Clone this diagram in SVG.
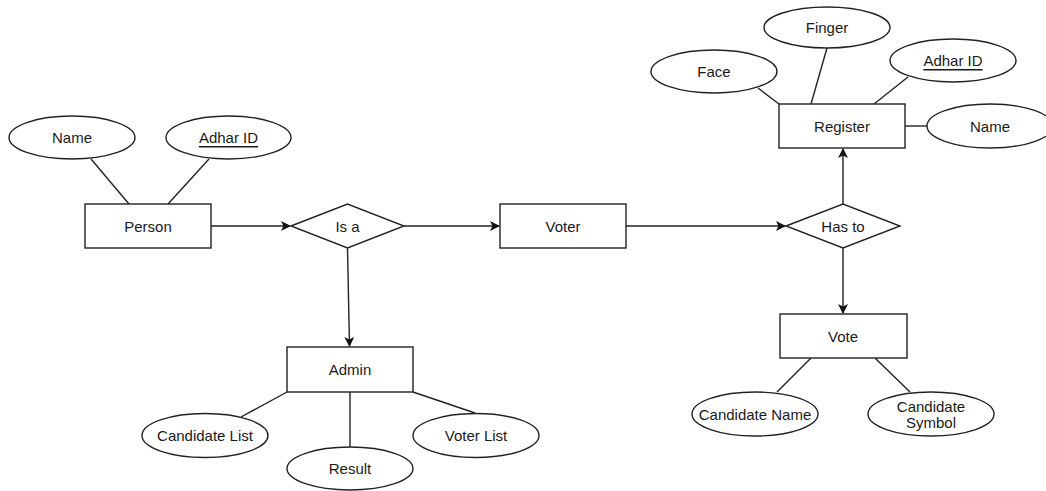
<svg xmlns="http://www.w3.org/2000/svg" width="1046" height="491" viewBox="0 0 1046 491">
<style>
.s{fill:#fff;stroke:#222;stroke-width:1.4}
.c{stroke:#222;stroke-width:1.4;fill:none}
text{font-family:"Liberation Sans",Arial,sans-serif;font-size:15px;fill:#1a1a1a;text-anchor:middle;dominant-baseline:central}
.u{text-decoration:underline}
</style>
<defs>
<marker id="a" viewBox="0 0 10 10" refX="9" refY="5" markerWidth="10" markerHeight="10" markerUnits="userSpaceOnUse" orient="auto">
<path d="M0,0 L10,5 L0,10 L2.5,5 Z" fill="#111"/>
</marker>
</defs>
<rect width="1046" height="491" fill="#fff"/>
<g id="connectors">
<line class="c" x1="91" y1="159" x2="129" y2="204"/>
<line class="c" x1="209" y1="159" x2="168" y2="204"/>
<line class="c" x1="211" y1="226" x2="290" y2="226" marker-end="url(#a)"/>
<line class="c" x1="404" y1="226" x2="499" y2="226" marker-end="url(#a)"/>
<line class="c" x1="626" y1="226" x2="785" y2="226" marker-end="url(#a)"/>
<line class="c" x1="347.5" y1="248" x2="349.5" y2="346" marker-end="url(#a)"/>
<line class="c" x1="843" y1="204" x2="843" y2="149" marker-end="url(#a)"/>
<line class="c" x1="843" y1="248" x2="843" y2="313" marker-end="url(#a)"/>
<line class="c" x1="758" y1="88" x2="779" y2="104"/>
<line class="c" x1="827" y1="48" x2="811" y2="104"/>
<line class="c" x1="908" y1="77" x2="874" y2="104"/>
<line class="c" x1="905" y1="126" x2="927" y2="126"/>
<line class="c" x1="811" y1="358" x2="777" y2="392"/>
<line class="c" x1="875" y1="358" x2="910" y2="392"/>
<line class="c" x1="287" y1="392" x2="241" y2="417"/>
<line class="c" x1="350" y1="392" x2="350" y2="447"/>
<line class="c" x1="413" y1="392" x2="475" y2="413"/>
</g>
<g id="person"><rect class="s" x="85" y="204" width="126" height="44"/><text x="148" y="226">Person</text></g>
<g id="person-name"><ellipse class="s" cx="72" cy="137.5" rx="63" ry="21.5"/><text x="72" y="137.5">Name</text></g>
<g id="person-adhar"><ellipse class="s" cx="228.5" cy="137.5" rx="62.5" ry="21.5"/><text class="u" x="228.5" y="137.5">Adhar ID</text></g>
<g id="isa"><polygon class="s" points="291,226 347.5,204 404,226 347.5,248"/><text x="347.5" y="226">Is a</text></g>
<g id="voter"><rect class="s" x="500" y="204" width="126" height="44"/><text x="563" y="226">Voter</text></g>
<g id="hasto"><polygon class="s" points="786,226 843,204 900,226 843,248"/><text x="843" y="226">Has to</text></g>
<g id="register"><rect class="s" x="779" y="104" width="126" height="44"/><text x="842" y="126">Register</text></g>
<g id="face"><ellipse class="s" cx="714" cy="71.5" rx="63" ry="21.5"/><text x="714" y="71.5">Face</text></g>
<g id="finger"><ellipse class="s" cx="827" cy="27.5" rx="63" ry="20.5"/><text x="827" y="27.5">Finger</text></g>
<g id="reg-adhar"><ellipse class="s" cx="953" cy="60.5" rx="63" ry="21.5"/><text class="u" x="953" y="60.5">Adhar ID</text></g>
<g id="reg-name"><ellipse class="s" cx="990" cy="126" rx="63" ry="22"/><text x="990" y="126">Name</text></g>
<g id="vote"><rect class="s" x="780" y="314" width="127" height="44"/><text x="843" y="336">Vote</text></g>
<g id="cand-name"><ellipse class="s" cx="755" cy="414" rx="63" ry="22"/><text x="755" y="414">Candidate Name</text></g>
<g id="cand-symbol"><ellipse class="s" cx="931" cy="414" rx="63" ry="22"/><text x="931" y="406">Candidate</text><text x="931" y="422">Symbol</text></g>
<g id="admin"><rect class="s" x="287" y="347" width="126" height="45"/><text x="350" y="369.5">Admin</text></g>
<g id="cand-list"><ellipse class="s" cx="205" cy="435.5" rx="63" ry="22"/><text x="205" y="435.5">Candidate List</text></g>
<g id="result"><ellipse class="s" cx="350" cy="468.5" rx="63" ry="21.5"/><text x="350" y="468.5">Result</text></g>
<g id="voter-list"><ellipse class="s" cx="476" cy="435.5" rx="63" ry="22"/><text x="476" y="435.5">Voter List</text></g>
</svg>
